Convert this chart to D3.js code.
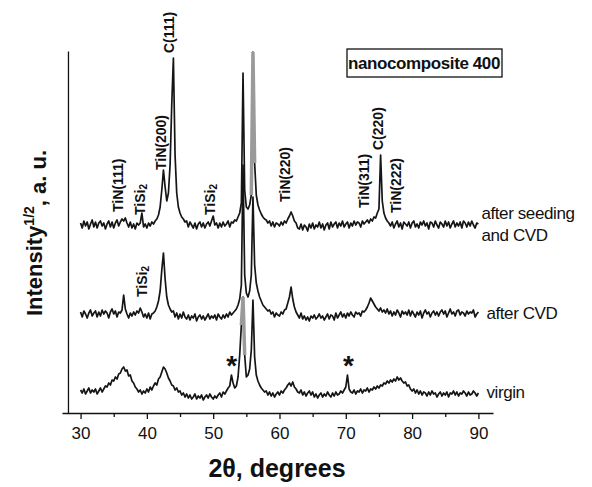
<!DOCTYPE html>
<html>
<head>
<meta charset="utf-8">
<script src="https://cdn.jsdelivr.net/npm/d3@7"></script>
<style>
body { margin: 0; background: #fff; }
text { font-family: "Liberation Sans", Arial, sans-serif; fill: #111; }
</style>
</head>
<body>
<div id="myChart"></div>
<script>
// scan grid: 2theta from 30 to 90 deg, step 0.25 deg
const scanStart = 30;
const scanStep = 0.25;

// stacked traces, bottom to top, with their vertical offsets (a.u.)
const traceNames = ["virgin", "after CVD", "after seeding and CVD"];
const traceOffsets = [18, 98, 188];

// intensity^1/2 above each trace's own baseline
const virgin = [
    5, 2, 6, 1, 4, 7, 2, 5, 3, 6, 1, 4, 7, 3, 6, 9,
    8, 12, 10, 15, 14, 18, 16, 21, 22, 26, 28, 24, 25, 19, 20, 14,
    12, 8, 6, 3, 5, 1, 4, 2, 6, 3, 8, 5, 9, 12, 10, 16,
    18, 23, 28, 26, 22, 17, 14, 10, 9, 5, 7, 3, 4, 0, 2, -2,
    1, -3, 0, -4, -2, 1, -4, -1, -3, 0, -5, -2, 0, -3, 1, -2,
    -4, -1, -3, 0, 2, -2, 3, 1, 4, 7, 9, 20, 12, 7, 9, 18,
    40, 70, 98, 40, 18, 20, 26, 45, 95, 38, 20, 14, 10, 7, 5, 3,
    4, 0, 3, -1, 2, -2, 1, 3, 0, 4, 2, 5, 7, 10, 12, 9,
    13, 8, 6, 3, 2, 5, 0, 3, -1, 2, 4, 0, 3, -2, 1, -3,
    0, 2, -2, 1, -1, 3, 0, -2, 2, -1, 3, 0, 1, 4, 2, 5,
    8, 20, 6, 3, 2, 5, 1, 4, 3, 6, 2, 5, 4, 7, 3, 6,
    5, 8, 6, 9, 7, 10, 9, 12, 11, 14, 12, 15, 13, 16, 14, 18,
    15, 17, 14, 12, 13, 9, 10, 6, 4, 6, 2, 5, 1, 4, 0, 3,
    2, -1, 3, 0, 4, 1, 2, -2, 1, 3, -1, 2, 0, 3, -2, 2,
    1, 4, 0, 3, -1, 2, 1, 4, 2, -1, 3, 0, 1, 4, 2, -1,
    2
];

const afterCVD = [
    3, -2, 4, 1, -3, 2, 5, -1, 2, 4, -2, 3, -1, 5, 1, 4,
    2, -3, 3, 6, 1, 4, -2, 3, 2, 5, 20, 6, 1, -3, 2, -1,
    3, 0, 4, 2, 7, 3, -2, 1, -3, 2, -4, 1, 2, 4, 8, 14,
    24, 45, 62, 36, 18, 10, 6, 3, 4, -2, 2, -4, 1, -3, 3, -2,
    -4, 0, -5, -1, -3, 1, -6, -2, 0, -4, -1, -5, -2, 1, -4, -1,
    -3, 0, -5, 1, -2, -4, 0, -3, 1, -2, 3, 0, 2, 4, 6, 10,
    16, 30, 150, 40, 22, 18, 24, 40, 118, 50, 32, 24, 18, 14, 10, 8,
    6, 4, 5, 1, 3, -2, 2, 0, -1, 3, 1, 5, 6, 12, 18, 28,
    16, 8, 3, 0, -3, 2, -4, -1, -5, -2, -6, -1, -3, 0, -4, -2,
    1, -3, -1, -5, -2, 1, -4, 0, -1, -5, 2, -3, 0, 3, -2, 1,
    -3, 2, -1, 3, 0, -2, 3, 1, 2, -1, 4, 3, 5, 8, 12, 17,
    14, 11, 8, 6, 4, 7, 3, 5, 2, 6, 1, 4, -1, 3, 0, 5,
    2, -2, 4, 1, 3, 0, 5, -1, 4, 1, -2, 3, 0, 4, -3, 2,
    5, 1, 3, -2, 2, 4, 0, 3, -1, 3, 5, 1, 4, -2, 2, 6,
    1, 3, -1, 4, 5, 0, 3, 2, -1, 4, 1, 3, 2, 5, -2, 1,
    3
];

const afterSeeding = [
    2, -3, 4, -1, 3, -4, 1, 5, -2, 3, -3, 2, 4, -1, 2, -4,
    1, 4, -2, 3, -3, 2, 5, -1, 3, 6, 4, 7, 2, -2, 3, -3,
    1, -4, 2, 0, 2, 12, -2, 1, -3, 2, -1, 3, 1, 4, 6, 10,
    18, 35, 55, 38, 24, 32, 60, 120, 167, 70, 32, 18, 12, 8, 6, 3,
    4, -2, 3, 0, -3, 2, -4, 1, 3, -2, 2, -3, 1, 3, -1, 4,
    9, 0, 2, -3, 2, -2, 3, -1, 1, 4, -2, 3, 2, 5, 4, 8,
    12, 22, 152, 35, 18, 16, 20, 30, 173, 62, 30, 20, 15, 11, 8, 6,
    5, 2, 4, -1, 3, -2, 2, 1, -1, 3, 0, 4, 2, 6, 9, 13,
    9, 4, 2, -3, -4, 1, -5, 0, -2, -6, 1, -3, 2, -4, 0, -2,
    3, -3, 1, -5, 0, 2, -4, 3, -2, 1, 3, -3, 2, -1, 4, -2,
    1, 3, -3, 2, -1, 4, 0, 3, 2, -2, 4, 1, 3, 5, 2, 6,
    4, 8, 7, 12, 16, 70, 24, 12, 7, 4, 2, -1, 3, -3, 1, 4,
    -2, 2, -4, 3, 1, -1, 3, -3, 2, 4, -2, 1, -3, 3, 0, 4,
    -1, 2, -4, 3, 2, -2, 4, 0, -3, 3, 1, -2, 4, -1, 3, -3,
    1, 4, -2, 2, -1, 3, -3, 4, 2, -2, 3, -1, 4, 0, -3, 2,
    1
];

const traceValues = [virgin, afterCVD, afterSeeding];

// parts of the two substrate spikes that print grey in the original
const grayTrace = [0, 2];
const grayFrom = [54.25, 55.75];
const grayTo = [54.75, 56.25];

// reflex labels: text, 2theta, lower end (a.u.)
const peakLabels = ["TiN(111)", "TiSi_2", "TiN(200)", "C(111)", "TiSi_2", "TiN(220)", "TiN(311)", "C(220)", "TiN(222)", "TiSi_2"];
const peakPos = [35.7, 38.9, 42.1, 43.4, 49.45, 60.9, 72.8, 74.9, 77.6, 39.2];
const peakBase = [201, 198, 243, 360, 198, 211, 205, 263, 200, 116];

// impurity marks on the virgin trace
const starPos = [52.8, 70.4];
const starLevel = 48;

const xTicks = [30, 40, 50, 60, 70, 80, 90];
const xMinorTicks = [35, 45, 55, 65, 75, 85];

const width = 592;
const height = 487;

const svg = d3.select("#myChart")
    .append("svg")
    .attr("width", width)
    .attr("height", height);

const x = d3.scaleLinear().domain([27.2, 92.2]).range([62, 493]);
const y = d3.scaleLinear().domain([0, 362]).range([413, 51]);

//x axis with labelled major ticks
const gx = svg.append("g")
    .attr("transform", `translate(0,${y(0)})`)
    .call(d3.axisBottom(x).tickValues(xTicks).tickSize(6).tickSizeOuter(0).tickPadding(8));
gx.selectAll("text").style("font-size", "17px").attr("fill", "#111");
gx.selectAll("line, path").attr("stroke", "#111").attr("stroke-width", 1.3);

//minor ticks
const gm = svg.append("g")
    .attr("transform", `translate(0,${y(0)})`)
    .call(d3.axisBottom(x).tickValues(xMinorTicks).tickSize(4).tickFormat(""));
gm.select(".domain").remove();
gm.selectAll("line").attr("stroke", "#111").attr("stroke-width", 1.3);

//y axis, no ticks
const gy = svg.append("g")
    .attr("transform", `translate(${x(28.1)},0)`)
    .call(d3.axisLeft(y).tickValues([]).tickSizeOuter(0));
gy.select(".domain").attr("stroke", "#111").attr("stroke-width", 1.3);

//the traces
traceValues.forEach((vals, k) => {
    const line = d3.line()
        .x((d, i) => x(scanStart + i * scanStep))
        .y(d => y(d + traceOffsets[k]));
    svg.append("path")
        .datum(vals)
        .attr("fill", "none")
        .attr("stroke", "#151515")
        .attr("stroke-width", 1.7)
        .attr("stroke-linejoin", "round")
        .attr("d", line);
});

//grey spike segments
grayTrace.forEach((k, j) => {
    const vals = traceValues[k];
    const pts = vals.map((d, i) => [scanStart + i * scanStep, d])
        .filter(p => p[0] >= grayFrom[j] && p[0] <= grayTo[j]);
    const line = d3.line()
        .x(p => x(p[0]))
        .y(p => y(p[1] + traceOffsets[k]));
    svg.append("path")
        .datum(pts)
        .attr("fill", "none")
        .attr("stroke", "#9a9a9a")
        .attr("stroke-width", 3.5)
        .attr("stroke-linejoin", "miter")
        .attr("d", line);
});

//vertical reflex labels
peakLabels.forEach((lab, i) => {
    const t = svg.append("text")
        .attr("transform", `translate(${x(peakPos[i])},${y(peakBase[i])}) rotate(-90)`)
        .attr("dominant-baseline", "central")
        .style("font-size", "14px")
        .style("font-weight", "bold");
    const parts = lab.split("_");
    t.append("tspan").text(parts[0]);
    if (parts[1]) {
        t.append("tspan").attr("dy", "0.35em").style("font-size", "10px").text(parts[1]);
    }
});

//asterisks
svg.selectAll(".star")
    .data(starPos)
    .enter().append("text")
    .attr("class", "star")
    .attr("x", d => x(d))
    .attr("y", y(starLevel))
    .attr("text-anchor", "middle")
    .attr("dominant-baseline", "central")
    .style("font-size", "28px")
    .style("font-weight", "bold")
    .text("*");

//trace names at the right
const nameLines = [["virgin"], ["after CVD"], ["after seeding", "and CVD"]];
const nameDy = [[3], [4], [-6, 16]];
nameLines.forEach((lines, k) => {
    lines.forEach((s, j) => {
        svg.append("text")
            .attr("x", x(90) + (k === 2 ? 3 : 8))
            .attr("y", y(traceOffsets[k]) + nameDy[k][j])
            .style("font-size", "17px")
            .style("letter-spacing", "-0.4px")
            .text(s);
    });
});

//boxed sample name
svg.append("rect")
    .attr("x", 347).attr("y", 49)
    .attr("width", 155).attr("height", 28)
    .attr("fill", "none").attr("stroke", "#111").attr("stroke-width", 1.3);
svg.append("text")
    .attr("x", 424).attr("y", 69)
    .attr("text-anchor", "middle")
    .style("font-size", "17px")
    .style("font-weight", "bold")
    .style("letter-spacing", "-0.4px")
    .text("nanocomposite 400");

//axis titles
svg.append("text")
    .attr("x", 277).attr("y", 477)
    .attr("text-anchor", "middle")
    .style("font-size", "25px")
    .style("font-weight", "bold")
    .text("2θ, degrees");

const yt = svg.append("text")
    .attr("transform", "translate(42,233) rotate(-90)")
    .attr("text-anchor", "middle")
    .style("font-size", "22px")
    .style("font-weight", "bold");
yt.append("tspan").text("Intensity");
yt.append("tspan").attr("dy", "-0.55em").style("font-size", "14px").text("1/2");
yt.append("tspan").attr("dy", "0.55em").text(", a. u.");
</script>
</body>
</html>
